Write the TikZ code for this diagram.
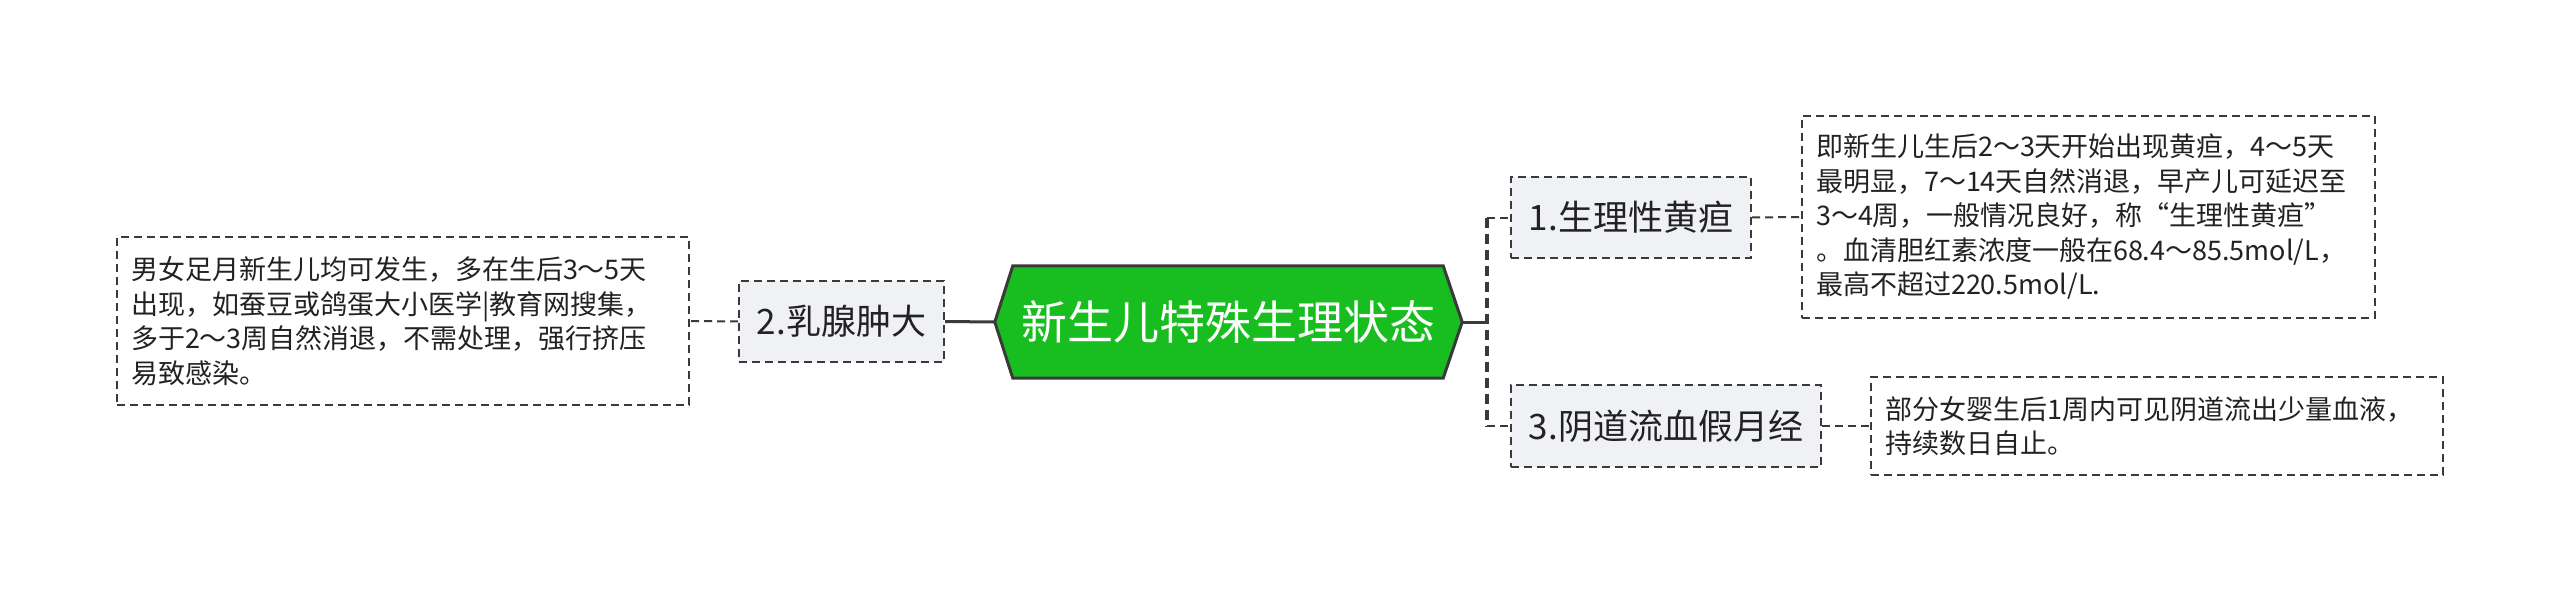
\documentclass[tikz,border=0pt]{standalone}
\usepackage{fontspec}
\setmainfont{Noto Sans CJK SC}
\usetikzlibrary{calc}
\definecolor{linegray}{HTML}{3A3A3A}
\definecolor{rootgreen}{RGB}{24,190,32}
\definecolor{boxfill}{HTML}{EFF1F4}
\definecolor{txt}{HTML}{222222}
\tikzset{
  boxdash/.style={draw=linegray, line width=2pt, dash pattern=on 8pt off 5pt},
  branchbox/.style={boxdash, fill=boxfill, inner sep=0pt, align=center,
    font=\fontsize{35pt}{42pt}\selectfont, text=txt},
  leafbox/.style={boxdash, fill=white, inner xsep=14pt, inner ysep=0pt, align=left,
    font=\fontsize{27pt}{34.5pt}\selectfont, text=txt},
  solidlink/.style={draw=linegray, line width=3pt},
  dashlink/.style={draw=linegray, line width=2pt, dash pattern=on 8pt off 5pt},
  buslink/.style={draw=linegray, line width=3.5pt, dash pattern=on 10pt off 6pt},
}
\begin{document}
\begin{tikzpicture}[x=1pt,y=-1pt]
\useasboundingbox (0,0) rectangle (2560,591);
% root
\node (root) [minimum width=467pt, minimum height=112pt, inner sep=0pt,
  text=white, font=\fontsize{46pt}{52pt}\selectfont] at (1228.5,322) {};
\path[fill=rootgreen, draw=linegray, line width=3pt, line join=miter]
  (root.west) -- ($(root.north west)+(18,0)$) -- ($(root.north east)+(-19,0)$)
  -- (root.east) -- ($(root.south east)+(-19,0)$) -- ($(root.south west)+(18,0)$) -- cycle;
\node [text=white, font=\fontsize{46pt}{52pt}\selectfont, inner sep=0pt] at (root.center) {新生儿特殊生理状态};
% branches
\node (n1) [branchbox, minimum width=240pt, minimum height=81pt] at (1631,217.5) {1.生理性黄疸};
\node (n2) [branchbox, minimum width=205pt, minimum height=81pt] at (841.5,321.5) {2.乳腺肿大};
\node (n3) [branchbox, minimum width=310pt, minimum height=82pt] at (1666,426) {3.阴道流血假月经};
% leaves
\node (l1) [leafbox, text width=545pt, minimum height=202pt] at (2088.5,217)
  {即新生儿生后2～3天开始出现黄疸，4～5天\\最明显，7～14天自然消退，早产儿可延迟至\\3～4周，一般情况良好，称“生理性黄疸”\\。血清胆红素浓度一般在68.4～85.5mol/L，\\最高不超过220.5mol/L.};
\node (l2) [leafbox, text width=544pt, minimum height=168pt] at (403,321)
  {男女足月新生儿均可发生，多在生后3～5天\\出现，如蚕豆或鸽蛋大小医学|教育网搜集，\\多于2～3周自然消退，不需处理，强行挤压\\易致感染。};
\node (l3) [leafbox, text width=544pt, minimum height=98pt] at (2157,426)
  {部分女婴生后1周内可见阴道流出少量血液，\\持续数日自止。};
% connectors
\coordinate (bus) at (1487,322);
\draw[solidlink] (root.west) -- (n2.east);
\draw[dashlink] (n2.west) -- (l2.east);
\draw[solidlink] (root.east) -- (bus);
\draw[buslink] (bus |- n1.west) -- (bus |- n3.west);
\draw[dashlink] (bus |- n1.west) -- (n1.west);
\draw[dashlink] (bus |- n3.west) -- (n3.west);
\draw[dashlink] (n1.east) -- (l1.west);
\draw[dashlink] (n3.east) -- (l3.west);
\end{tikzpicture}
\end{document}
